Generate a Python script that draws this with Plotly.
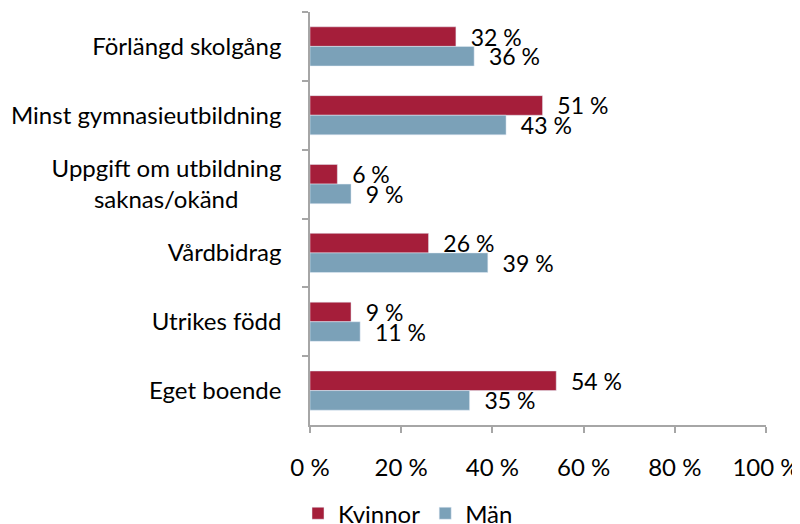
import plotly.graph_objects as go

NB = "\u00a0"
categories = ["Förlängd skolgång", "Minst gymnasieutbildning",
              "Uppgift om utbildning<br>saknas/okänd" + NB * 7,
              "Vårdbidrag", "Utrikes född", "Eget boende"]
kvinnor = [32, 51, 6, 26, 9, 54]
man = [36, 43, 9, 39, 11, 35]
x_ticks = [0, 20, 40, 60, 80, 100]

FONT = "Lato"
FS = 24
fig = go.Figure()
fig.add_trace(go.Bar(y=categories, x=kvinnor, orientation="h", name="Kvinnor",
                     marker=dict(color="#A51E3A"),
                     text=[f"  {v} %" for v in kvinnor], textposition="outside",
                     constraintext="none",
                     cliponaxis=False, textfont=dict(size=23, color="black", family=FONT)))
fig.add_trace(go.Bar(y=categories, x=man, orientation="h", name="Män",
                     marker=dict(color="#7BA1B8"),
                     text=[f"  {v} %" for v in man], textposition="outside",
                     constraintext="none",
                     cliponaxis=False, textfont=dict(size=23, color="black", family=FONT)))

fig.update_layout(
    width=800, height=524,
    margin=dict(l=302, r=42, t=4, b=107),
    paper_bgcolor="white", plot_bgcolor="white",
    barmode="group", bargap=0.43, bargroupgap=0,
    font=dict(family=FONT, size=FS, color="black"),
    legend=dict(orientation="h", xref="container", x=0.5, xanchor="center",
                yref="container", y=0.078, yanchor="top",
                font=dict(size=FS, family=FONT), itemwidth=30, tracegroupgap=0),
    xaxis=dict(range=[0, 100], tickvals=x_ticks, ticktext=[f"{v} %" for v in x_ticks],
               showgrid=False, zeroline=False, showline=True, linecolor="#A6A6A6", linewidth=1.5,
               ticks="outside", ticklen=6, tickcolor="#A6A6A6", tickwidth=1.5, automargin=False,
               ticklabelstandoff=14, tickfont=dict(size=FS)),
    yaxis=dict(autorange="reversed", showgrid=False, zeroline=False, showline=True,
               linecolor="#A6A6A6", linewidth=1.5, ticks="outside", ticklen=6, automargin=False,
               tickcolor="#A6A6A6", tickwidth=1.5, tickson="boundaries",
               ticklabelstandoff=22, tickfont=dict(size=FS)),
)
fig.write_html("out.html")
